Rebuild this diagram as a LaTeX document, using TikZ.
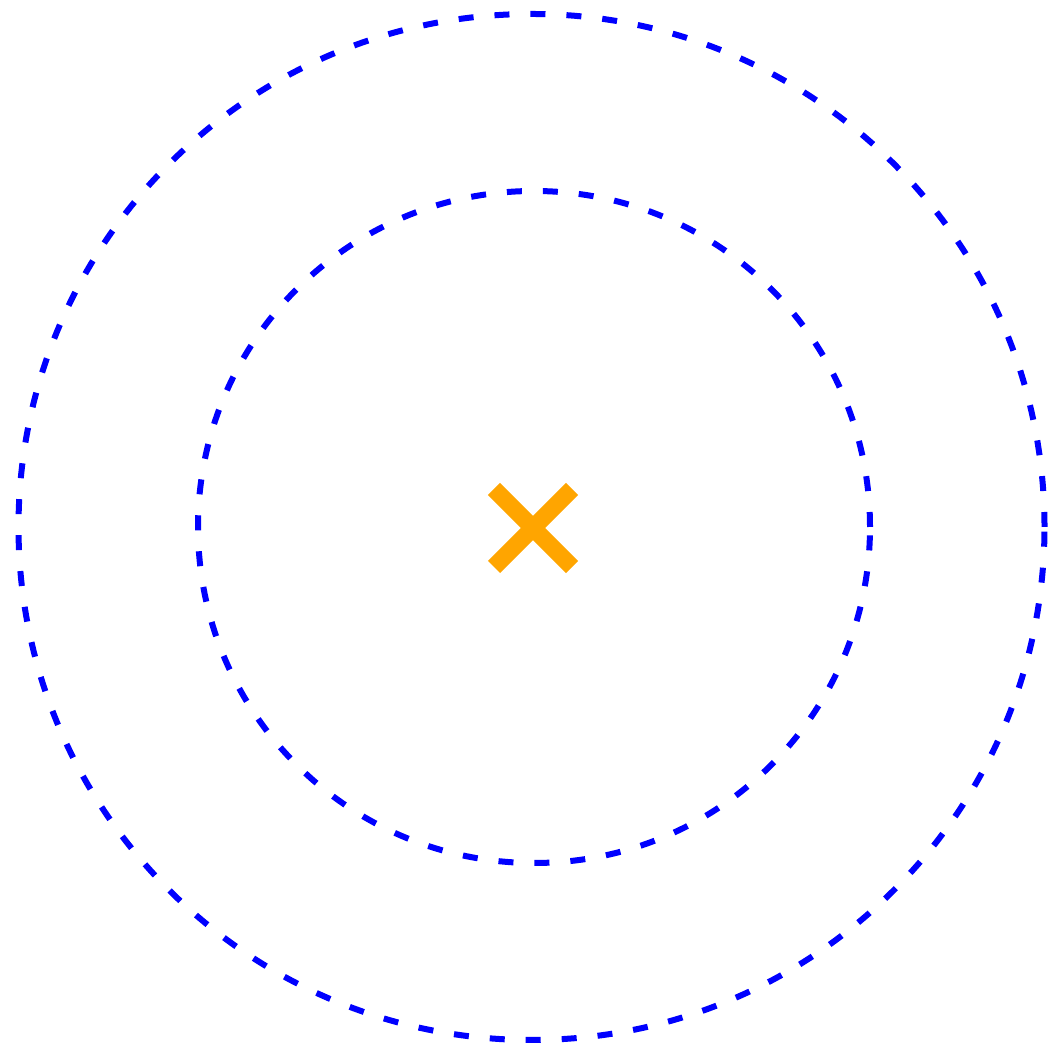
\documentclass[tikz,border=0pt]{standalone}
\definecolor{crossorange}{RGB}{255,165,0}
\tikzset{
  ring/.style={blue, line width=0.06cm, dash pattern=on 0.15cm off 0.21cm},
  cross/.style={crossorange, line width=0.17cm}
}
\begin{document}
\begin{tikzpicture}
                \useasboundingbox (0,0) rectangle (10.49,10.51);

                % Draw the centre point and the cross ends
                \coordinate (c) at (5.33,5.23);
                \coordinate (x1) at (4.94,5.62);
                \coordinate (x2) at (5.72,4.84);
                \coordinate (x3) at (4.94,4.84);
                \coordinate (x4) at (5.72,5.62);

                % Draw the outer ring
                \draw[ring] (5.315,5.24) circle [radius=5.13];

                % Draw the inner ring
                \draw[ring] (5.34,5.24) circle [radius=3.36];

                % Draw the cross
                \draw[cross] (x1) -- (x2);
                \draw[cross] (x3) -- (x4);
\end{tikzpicture}
\end{document}
